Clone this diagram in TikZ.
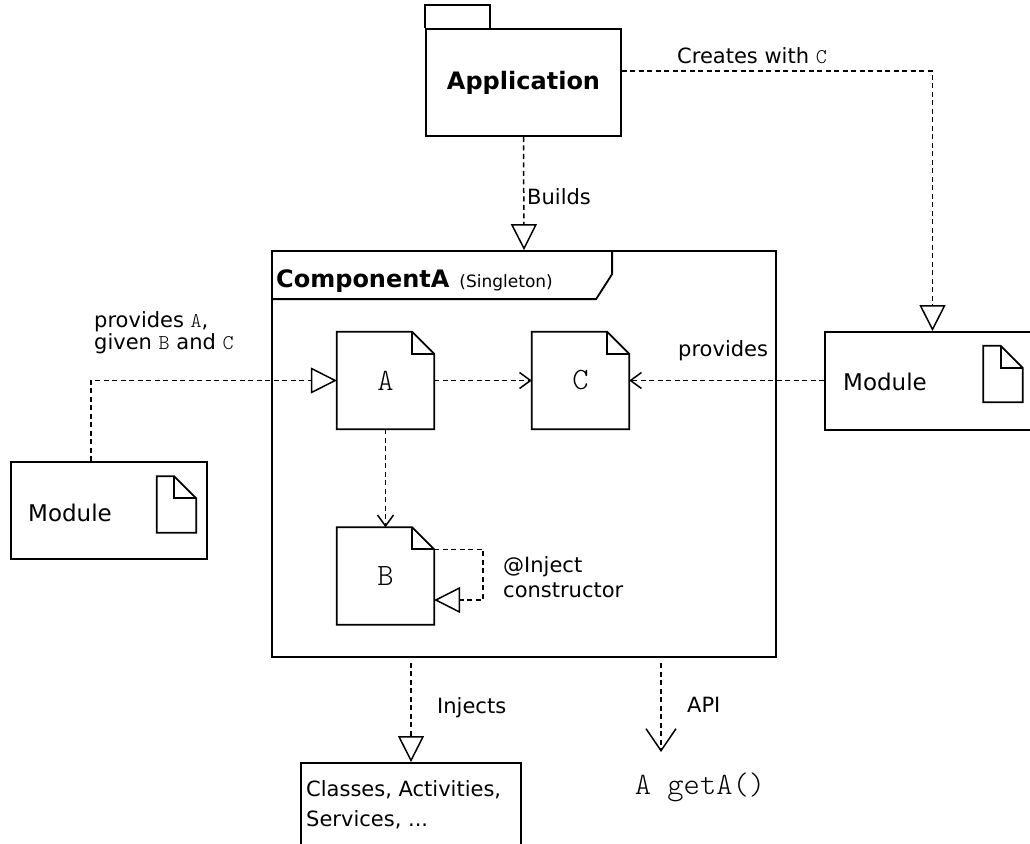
\documentclass[tikz,border=0pt]{standalone}
\usepackage{fontspec}
\setmainfont{DejaVu Sans}
\newfontfamily\codefont{Latin Modern Mono Light}
\usetikzlibrary{arrows.meta,calc}
\newcommand\fs[2]{\fontsize{#1}{#2}\selectfont}
% inline typewriter name inside a label
\newcommand\code[1]{{\codefont\fs{21}{21}#1}}
% document outline with a folded top-right corner, drawn on a named node
\newcommand\dogear[2]{%
  \draw[line width=1.8pt] (#1.north west) -- ([xshift=-#2]#1.north east)
    -- ([yshift=-#2]#1.north east) -- (#1.south east) -- (#1.south west) -- cycle;
  \draw[line width=1.8pt] ([xshift=-#2]#1.north east) |- ([yshift=-#2]#1.north east);
}
\begin{document}
\begin{tikzpicture}[x=1pt,y=-1pt,
  box/.style={draw,line width=1.8pt,inner sep=0pt},
  doc/.style={inner sep=0pt,minimum width=97pt,minimum height=97pt,font=\codefont\fs{31}{31}},
  icon/.style={inner sep=0pt,minimum width=39pt,minimum height=56pt},
  dep/.style={draw,line width=1.5pt,dash pattern=on 5pt off 3.5pt},
  realize/.style={dep,-{Triangle[open,length=26pt,width=26pt]}},
  use/.style={dep,-{Straight Barb[length=11pt,width=16pt]}},
  lbl/.style={font=\fs{21}{22},inner sep=0pt,align=left},
  mtxt/.style={font=\fs{23}{23},inner sep=0pt},
]
\useasboundingbox (0,0) rectangle (1030,843);
\clip (0,0) rectangle (1030,843);

% Application package
\node[box,minimum width=195pt,minimum height=107pt,font=\bfseries\fs{24}{24}] (app) at (523.5,82.5) {Application};
\draw[line width=1.8pt] (app.north west) -- ++(0,-23) -- ++(65,0) -- ++(0,23);

% ComponentA frame with its name tab
\node[box,minimum width=504pt,minimum height=406pt] (comp) at (524,454) {};
\draw[line width=1.8pt] ($(comp.north west)+(341,0)$) -- ++(0,24) -- ++(-16,25) -- ($(comp.north west)+(0,49)$);
\node[anchor=base west,inner sep=0pt] (title) at (276,287)
  {\fs{24}{24}\bfseries ComponentA\hspace{10pt}\mdseries\fs{17}{17}(Singleton)};

% classes inside the component
\node[doc] (A) at (385.5,380.5) {A};
\node[doc] (C) at (580.5,380.5) {C};
\node[doc] (B) at (385.5,576) {B};
\dogear{A}{22pt}
\dogear{C}{22pt}
\dogear{B}{22pt}

% modules
\node[box,minimum width=196pt,minimum height=97pt] (modL) at (109,510.5) {};
\node[mtxt,anchor=west] (modLtxt) at (28,513) {Module};
\node[icon] (iconL) at (176.5,504.5) {};
\dogear{iconL}{22pt}

\node[box,minimum width=215pt,minimum height=98pt] (modR) at (932.5,381) {};
\node[mtxt,anchor=west] (modRtxt) at (843,382) {Module};
\node[icon] (iconR) at (1003,374) {};
\dogear{iconR}{22pt}

% injection targets
\node[box,minimum width=220pt,minimum height=90pt] (cls) at (411,808) {};
\node[lbl,anchor=west,font=\fs{21}{30}] (clstxt) at (306,805) {Classes, Activities,\\Services, ...};
\node[inner sep=0pt,font=\codefont\fs{31}{31}] (getA) at (700,787) {A getA()};

% connectors
\draw[realize] ([yshift=11.5pt]app.east) -| (modR.north);
\draw[realize] (app.south) -- (comp.north);
\draw[realize] ([xshift=-18pt]modL.north) |- (A.west);
\draw[use] (A.east) -- (C.west);
\draw[use] (C.east -| modR.west) -- (C.east);
\draw[use] (A.south) -- (B.north);
\draw[realize] ([yshift=-22pt]B.north east) -- ++(49,0) |- ([yshift=-24pt]B.east);
\draw[realize] ([yshift=-5pt]comp.south -| cls.north) -- (cls.north);
\coordinate (apiS) at (661,663);
\coordinate (apiE) at (661,752);
\draw[dep,-{Straight Barb[length=22pt,width=30pt]}] (apiS) -- (apiE);

% labels
\node[lbl] (lcreate) at (752,56) {Creates with \code{C}};
\node[lbl,anchor=west] (lbuild) at (527,197) {Builds};
\node[lbl,anchor=west] (lprovA) at (94,333) {provides \code{A},\\given \code{B} and \code{C}};
\node[lbl,anchor=west] (lprov) at (678,351) {provides};
\node[lbl,anchor=west,font=\fs{21}{25}] (linject) at (503,577) {@Inject\\constructor};
\node[lbl,anchor=west] (linj) at (437,708) {Injects};
\node[lbl,anchor=west] (lapi) at (687,705) {API};
\end{tikzpicture}
\end{document}
